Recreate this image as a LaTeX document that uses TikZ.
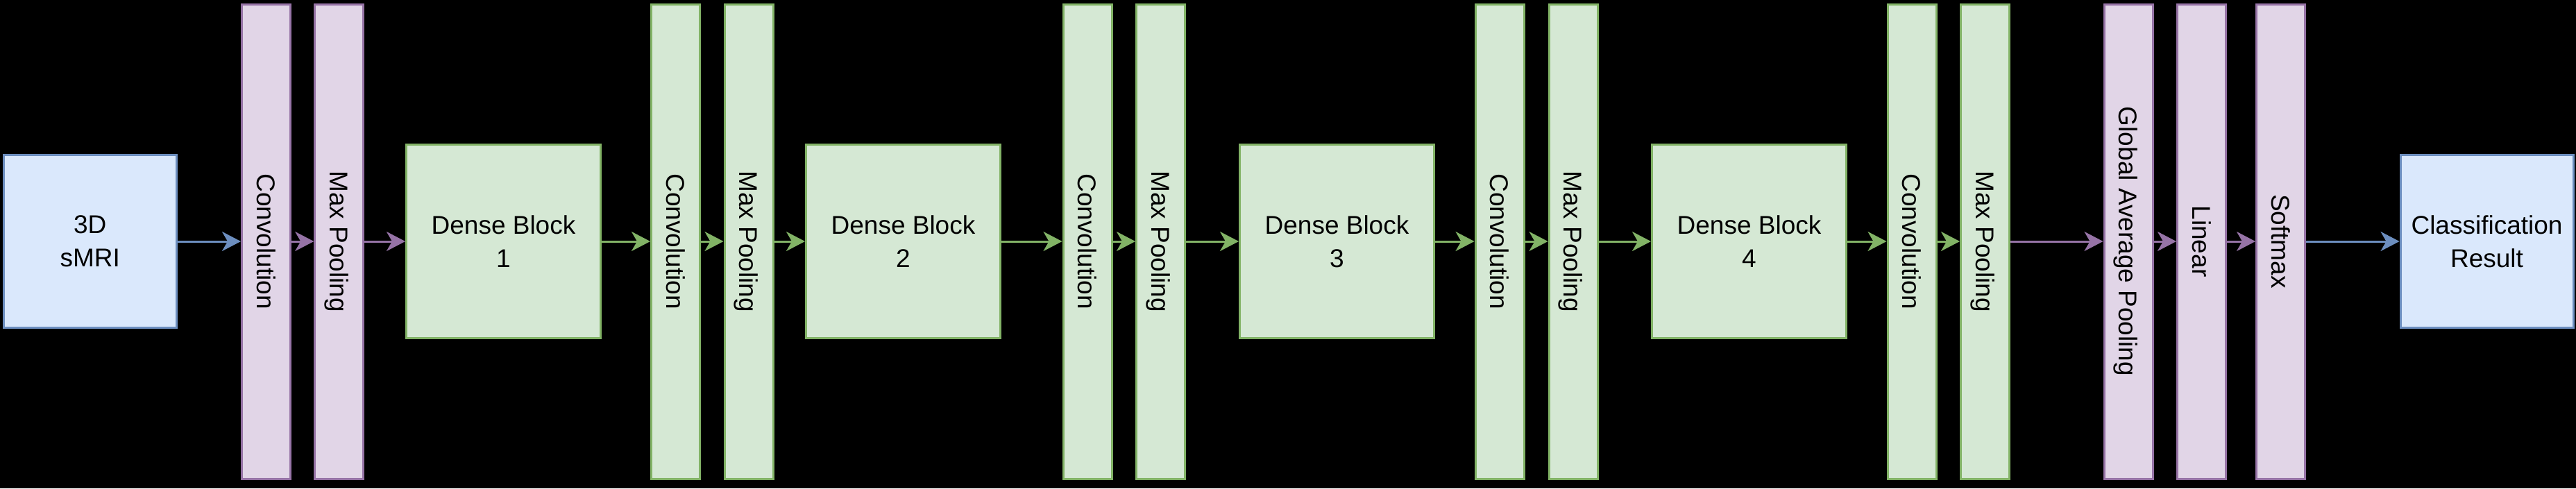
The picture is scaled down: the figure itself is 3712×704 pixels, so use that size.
\documentclass[tikz,border=0pt]{standalone}
\usepackage{fontspec}
\setmainfont{Liberation Sans}
\usetikzlibrary{arrows.meta}
\definecolor{bfill}{HTML}{DAE8FC}
\definecolor{bline}{HTML}{6C8EBF}
\definecolor{gfill}{HTML}{D5E8D4}
\definecolor{gline}{HTML}{82B366}
\definecolor{pfill}{HTML}{E1D5E7}
\definecolor{pline}{HTML}{9673A6}
\begin{document}
\begin{tikzpicture}[x=1pt,y=-1pt,
  box/.style={draw, line width=3pt, inner sep=0pt, align=center, text=black,
    font=\fontsize{37}{48}\selectfont},
  bluebox/.style={box, fill=bfill, draw=bline, minimum width=249pt, minimum height=249pt},
  dense/.style={box, fill=gfill, draw=gline, minimum width=280pt, minimum height=279pt},
  gbar/.style={box, fill=gfill, draw=gline, minimum width=70pt, minimum height=684pt},
  pbar/.style={box, fill=pfill, draw=pline, minimum width=70pt, minimum height=684pt},
  vlbl/.style={rotate=-90, inner sep=0pt, text=black, text height=26.5pt, text depth=0pt,
    font=\fontsize{37}{48}\selectfont},
  arr/.style={line width=3pt, -{Stealth[length=27pt,width=28pt,inset=8pt]}},
]
\fill[black] (0,0) rectangle (3712,704);

\node[bluebox] (in) at (129.75,348) {3D\\sMRI};
\node[pbar] (c1) at (383.5,348) {};
\node[pbar] (p1) at (488.75,348) {};
\node[dense] (d1) at (725.5,348) {Dense Block\\1};
\node[gbar] (c2) at (973.5,348) {};
\node[gbar] (p2) at (1079,348) {};
\node[dense] (d2) at (1301.5,348) {Dense Block\\2};
\node[gbar] (c3) at (1567,348) {};
\node[gbar] (p3) at (1672.5,348) {};
\node[dense] (d3) at (1926.5,348) {Dense Block\\3};
\node[gbar] (c4) at (2161,348) {};
\node[gbar] (p4) at (2267,348) {};
\node[dense] (d4) at (2520.5,348) {Dense Block\\4};
\node[gbar] (c5) at (2755,348) {};
\node[gbar] (p5) at (2860.5,348) {};
\node[pbar] (gap) at (3067,348) {};
\node[pbar] (lin) at (3172.5,348) {};
\node[pbar] (sm) at (3286.5,348) {};
\node[bluebox] (out) at (3583.5,348) {Classification\\Result};

\node[vlbl] (c1t) at (c1.center) {Convolution};
\node[vlbl] (p1t) at (p1.center) {Max Pooling};
\node[vlbl] (c2t) at (c2.center) {Convolution};
\node[vlbl] (p2t) at (p2.center) {Max Pooling};
\node[vlbl] (c3t) at (c3.center) {Convolution};
\node[vlbl] (p3t) at (p3.center) {Max Pooling};
\node[vlbl] (c4t) at (c4.center) {Convolution};
\node[vlbl] (p4t) at (p4.center) {Max Pooling};
\node[vlbl] (c5t) at (c5.center) {Convolution};
\node[vlbl] (p5t) at (p5.center) {Max Pooling};
\node[vlbl] (gapt) at (gap.center) {Global Average Pooling};
\node[vlbl] (lint) at (lin.center) {Linear};
\node[vlbl] (smt) at (sm.center) {Softmax};

\draw[arr, draw=bline] (in) -- (c1);
\draw[arr, draw=pline] (c1) -- (p1);
\draw[arr, draw=pline] (p1) -- (d1);
\draw[arr, draw=gline] (d1) -- (c2);
\draw[arr, draw=gline] (c2) -- (p2);
\draw[arr, draw=gline] (p2) -- (d2);
\draw[arr, draw=gline] (d2) -- (c3);
\draw[arr, draw=gline] (c3) -- (p3);
\draw[arr, draw=gline] (p3) -- (d3);
\draw[arr, draw=gline] (d3) -- (c4);
\draw[arr, draw=gline] (c4) -- (p4);
\draw[arr, draw=gline] (p4) -- (d4);
\draw[arr, draw=gline] (d4) -- (c5);
\draw[arr, draw=gline] (c5) -- (p5);
\draw[arr, draw=pline] (p5) -- (gap);
\draw[arr, draw=pline] (gap) -- (lin);
\draw[arr, draw=pline] (lin) -- (sm);
\draw[arr, draw=bline] (sm) -- (out);
\end{tikzpicture}
\end{document}
